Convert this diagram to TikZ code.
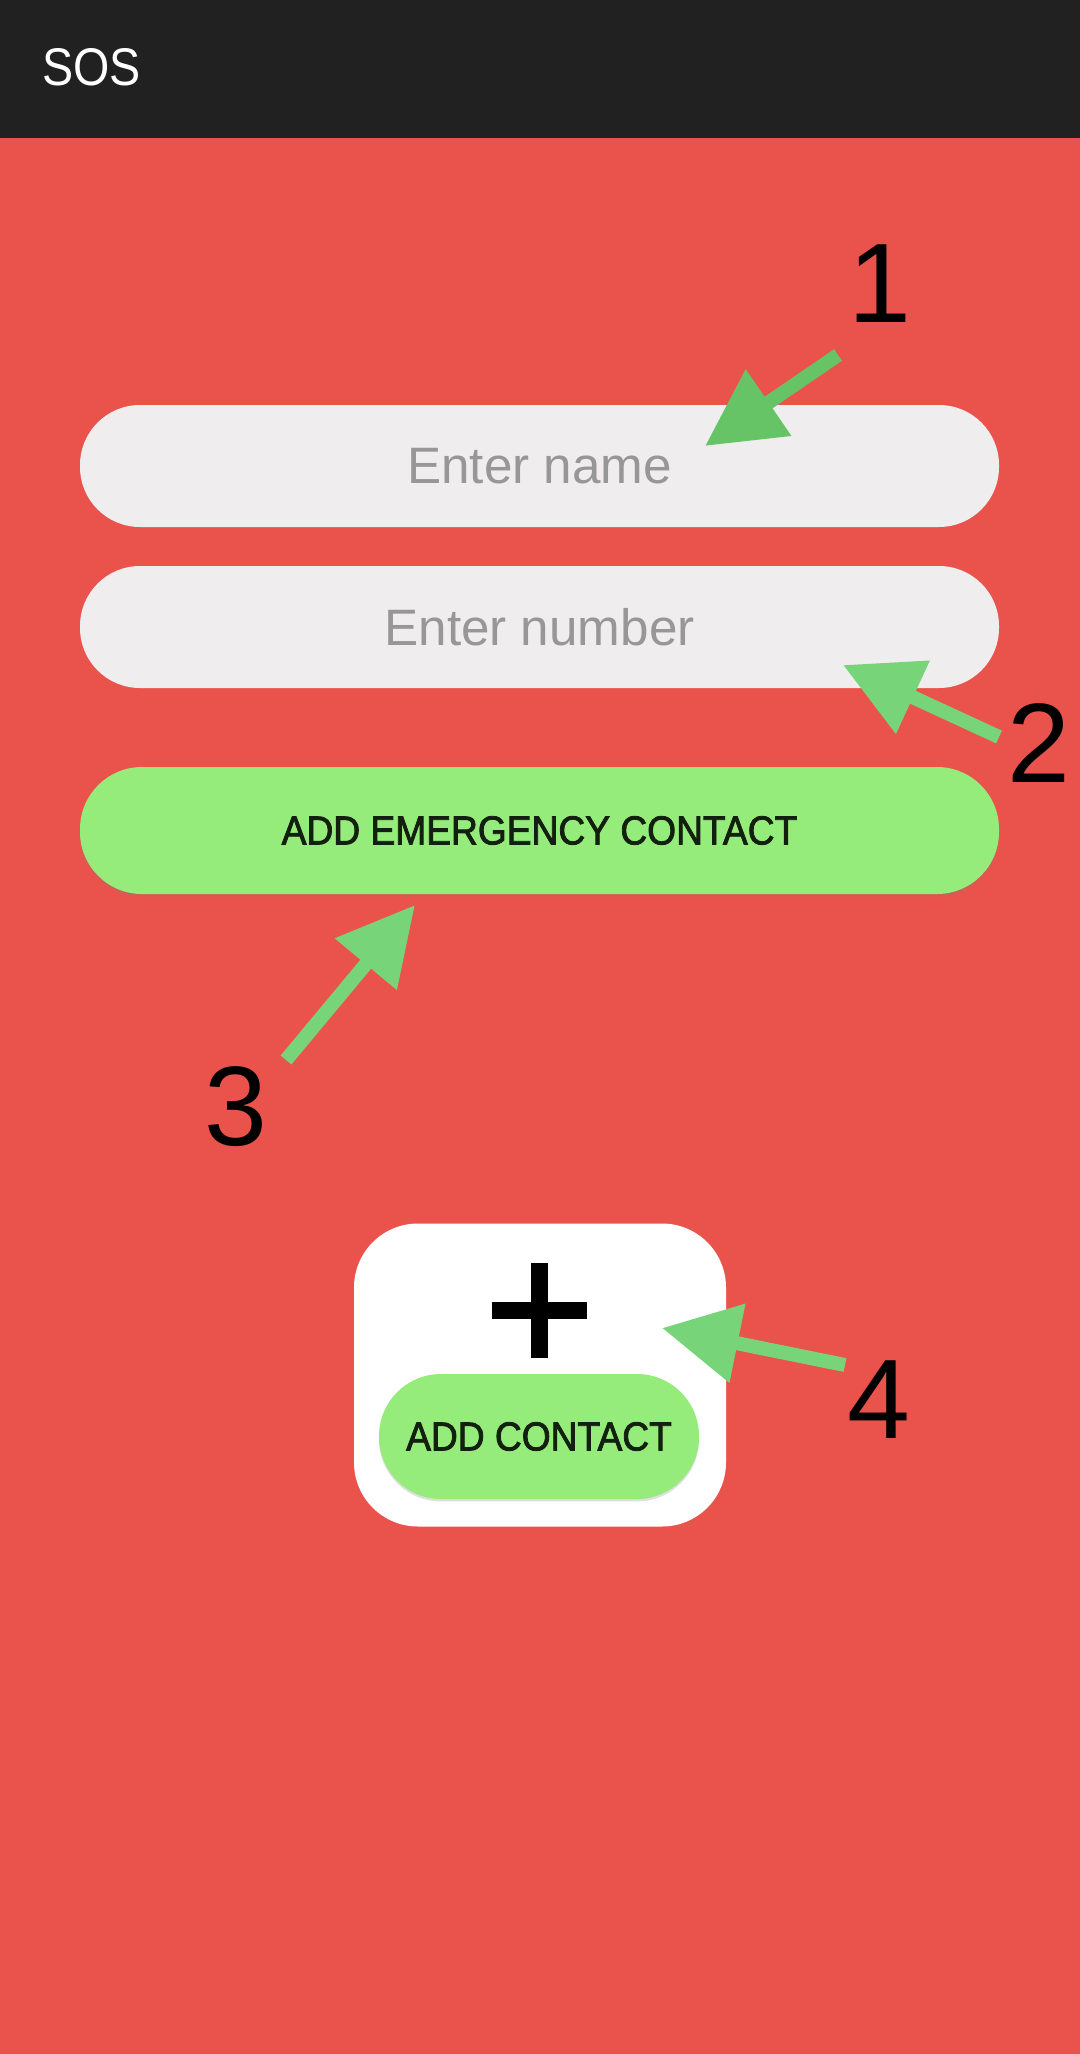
\documentclass[tikz,border=0pt]{standalone}
\usepackage{fontspec}
\setmainfont{Liberation Sans}
\newfontfamily\hintfont{Liberation Sans}
\newfontfamily\btnfont[FakeStretch=0.92,FakeBold=2]{Liberation Sans}
\newfontfamily\titlefont[FakeStretch=0.88]{Liberation Sans}
\newfontfamily\numfont{Liberation Sans}
\usetikzlibrary{arrows.meta,shadows}
\definecolor{bgred}{HTML}{EA534B}
\definecolor{topbar}{HTML}{212121}
\definecolor{fieldfill}{HTML}{EFEDEE}
\definecolor{hintgray}{HTML}{979797}
\definecolor{btngreen}{HTML}{95EC7B}
\definecolor{btntext}{HTML}{14200F}
\definecolor{arrowA}{HTML}{66C466}
\definecolor{arrowB}{HTML}{78D479}
\tikzset{
  field/.style={fill=fieldfill, rounded corners=30pt, minimum width=459.5pt, minimum height=61pt,
    inner sep=0pt, text=hintgray, font=\hintfont\fontsize{25.6}{30}\selectfont},
  greenbtn/.style={fill=btngreen, inner sep=0pt, text=btntext, font=\btnfont\fontsize{20.2}{24}\selectfont,
    drop shadow={opacity=0.25, shadow xshift=0pt, shadow yshift=-1.2pt}},
  numlabel/.style={anchor=base, inner sep=0pt, font=\numfont\fontsize{56.5}{60}\selectfont},
  annot/.style={line width=7pt, -{Triangle[length=38.5pt 0, width=38.5pt 0]}},
  plusbar/.style={line width=8.5pt},
}
\begin{document}
\begin{tikzpicture}[x=0.5pt,y=-0.5pt]
\fill[bgred] (0,0) rectangle (1080,2054);
\useasboundingbox (0,0) rectangle (1080,2054);
\fill[topbar] (0,0) rectangle (1080,138);
\node[anchor=base west, inner sep=0pt, text=white, font=\titlefont\fontsize{26.5}{30}\selectfont] (title) at (42,86) {SOS};

% input fields
\node[field] (name) at (539.5,466) {Enter name};
\node[field] (number) at (539.5,627) {Enter number};

% emergency contact button
\node[greenbtn, rounded corners=31pt, minimum width=459.5pt, minimum height=63.5pt] (emerg) at (539.5,830.5) {ADD EMERGENCY CONTACT};

% card
\node[fill=white, rounded corners=32pt, minimum width=186pt, minimum height=151.5pt, inner sep=0pt] (card) at (540,1375) {};
\coordinate (plusc) at (539.5,1310.5);
\draw[plusbar] (plusc) ++(-47.5,0) -- ++(95,0);
\draw[plusbar] (plusc) ++(0,-47.5) -- ++(0,95);
\node[greenbtn, rounded corners=31pt, minimum width=160pt, minimum height=62.5pt] (addc) at (539,1436.5) {ADD CONTACT};

% numbers
\node[numlabel] (n1) at (880,323) {1};
\node[numlabel] (n2) at (1039,782) {2};
\node[numlabel] (n3) at (236,1145) {3};
\node[numlabel] (n4) at (879,1438) {4};

% annotation arrows
\coordinate (t1) at (838,355);
\coordinate (h1) at (705,446);
\coordinate (t2) at (999,737);
\coordinate (h2) at (843,665);
\coordinate (t3) at (286,1060);
\coordinate (h3) at (415,905);
\coordinate (t4) at (845,1365);
\coordinate (h4) at (662,1328);
\draw[annot, arrowA] (t1) -- (h1);
\draw[annot, arrowB] (t2) -- (h2);
\draw[annot, arrowB] (t3) -- (h3);
\draw[annot, arrowB] (t4) -- (h4);
\end{tikzpicture}
\end{document}
